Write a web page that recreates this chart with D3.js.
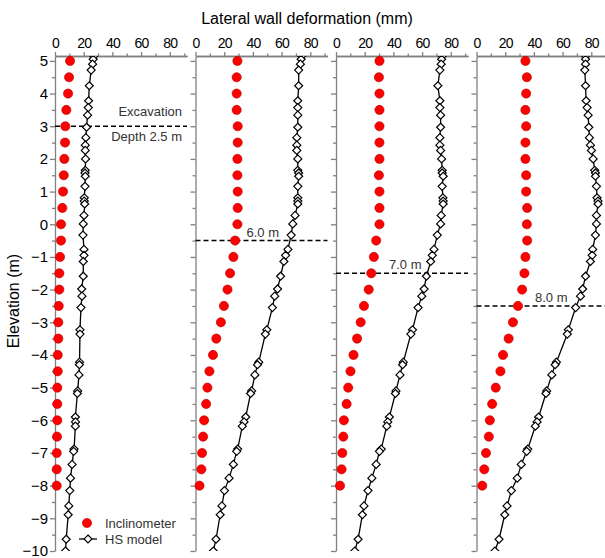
<!DOCTYPE html>
<html>
<head>
<meta charset="utf-8">
<script src="https://cdn.jsdelivr.net/npm/d3@7"></script>
<style>
  body { margin: 0; background: #fff; }
  text { font-family: Arial, "Liberation Sans", sans-serif; }
  .axis path, .axis line { stroke: #808080; stroke-width: 1.3; }
</style>
</head>
<body>
<div id="chart"></div>
<script>
// Chart data
var xTicks = [0, 20, 40, 60, 80];
var xMinorTicks = [10, 30, 50, 70, 90];
var yTicks = [5, 4, 3, 2, 1, 0, -1, -2, -3, -4, -5, -6, -7, -8, -9, -10];
var yMinorTicks = [4.5, 3.5, 2.5, 1.5, 0.5, -0.5, -1.5, -2.5, -3.5, -4.5, -5.5, -6.5, -7.5, -8.5, -9.5];

var stageDepth = ["2.5", "6.0", "7.0", "8.0"];
var stageElev = [3, -0.5, -1.5, -2.5];

// inclinometer readings, every 0.5 m
var inclElev = [5, 4.5, 4, 3.5, 3, 2.5, 2, 1.5, 1, 0.5, 0, -0.5, -1, -1.5, -2, -2.5, -3, -3.5, -4, -4.5, -5, -5.5, -6, -6.5, -7, -7.5, -8];
var incl25 = [10.5, 9.8, 9.1, 7.9, 7.2, 7.0, 6.5, 6.1, 5.6, 5.1, 4.2, 4.2, 3.5, 3.0, 3.0, 2.6, 2.3, 2.3, 1.9, 1.9, 1.6, 1.6, 1.6, 1.4, 1.2, 1.2, 1.2];
var incl60 = [29.2, 28.7, 28.7, 28.7, 29.4, 29.4, 29.2, 29.2, 29.4, 29.4, 29.2, 27.6, 26.4, 24.1, 22.3, 19.8, 17.7, 14.5, 12.2, 9.7, 8.3, 7.4, 6.0, 5.3, 4.6, 4.1, 2.8];
var incl70 = [30.3, 29.9, 30.3, 30.3, 30.3, 30.3, 30.3, 29.9, 30.3, 30.3, 30.3, 28.0, 26.4, 24.6, 22.8, 19.5, 17.2, 14.7, 12.2, 10.1, 8.5, 7.4, 5.5, 5.1, 4.4, 3.9, 2.8];
var incl80 = [34.1, 35.1, 34.6, 34.1, 34.6, 34.1, 34.1, 34.6, 34.6, 35.3, 35.1, 35.3, 34.1, 33.4, 31.8, 28.9, 25.4, 22.4, 18.5, 16.7, 13.4, 10.9, 9.3, 8.6, 6.6, 5.4, 4.0];

// HS model nodes
var hsElev = [5.15, 5.05, 4.9, 4.72, 4.24, 3.78, 3.57, 3.34, 2.97, 2.65, 2.42, 2.26, 2.0, 1.65, 1.57, 1.47, 1.16, 0.81, 0.71, 0.62, 0.27, 0.01, -0.33, -0.77, -0.95, -1.14, -1.59, -1.98, -2.2, -2.55, -3.23, -3.36, -4.22, -4.3, -4.61, -5.1, -5.18, -5.9, -6.05, -6.18, -6.88, -6.95, -7.35, -7.77, -8.15, -8.62, -8.89, -9.64, -10.0];
var hs25 = [27.0, 26.6, 26.2, 25.2, 23.9, 23.4, 23.2, 22.7, 22.0, 21.5, 21.1, 21.1, 21.3, 21.1, 20.9, 21.1, 20.9, 20.4, 20.4, 20.7, 20.2, 19.7, 19.5, 20.2, 20.2, 19.7, 19.7, 18.6, 18.8, 18.1, 17.4, 17.4, 17.1, 17.0, 16.7, 15.8, 15.6, 14.2, 14.3, 14.2, 13.3, 13.0, 11.9, 10.8, 10.3, 9.6, 9.2, 7.8, 7.3];
var hs60 = [74, 73.6, 73.1, 71.9, 71.9, 71.3, 71.3, 71.3, 71.3, 70.6, 70.6, 70.6, 71.3, 71.3, 71.9, 71.9, 71.3, 71.3, 71.3, 71.3, 69.4, 67.8, 66.7, 64.4, 62.8, 61.6, 59.3, 57.2, 55.2, 53.6, 49.7, 48.7, 44.1, 43.2, 41.4, 39.1, 38.4, 35.0, 33.8, 32.6, 29.4, 28.7, 26.4, 23.4, 20.2, 18.4, 17.2, 14.3, 12.4];
var hs70 = [74, 73.6, 73.3, 72.4, 71.0, 72.4, 72.4, 72.9, 72.9, 72.4, 72.4, 72.9, 73.6, 74.0, 74.0, 74.7, 74.0, 74.5, 74.7, 74.7, 73.3, 72.9, 70.6, 68.3, 67.1, 66.0, 63.0, 61.4, 59.8, 57.2, 53.3, 52.2, 46.9, 46.4, 44.6, 41.8, 41.4, 37.2, 36.1, 35.4, 31.5, 30.3, 28.0, 25.0, 22.3, 19.5, 18.4, 15.4, 13.1];
var hs80 = [76, 76, 76, 75.5, 76.0, 76.4, 77.1, 77.8, 78.3, 78.7, 79.4, 80.1, 81.3, 82.4, 82.9, 82.9, 83.6, 84.0, 84.7, 84.7, 83.6, 83.6, 82.9, 81.0, 80.6, 79.4, 76.0, 74.0, 72.5, 69.1, 64.0, 63.3, 55.7, 54.8, 52.5, 48.9, 48.4, 43.3, 42.2, 41.0, 35.7, 35.0, 31.2, 28.4, 24.3, 21.3, 19.7, 15.7, 12.8];

var inclSeries = [incl25, incl60, incl70, incl80];
var hsSeries = [hs25, hs60, hs70, hs80];

var svgWidth = 605;
var svgHeight = 558;
var panelLeft = 55;
var panelStep = 140.5;
var panelWidth = 132;

var svg = d3.select("#chart")
  .append("svg")
  .attr("width", svgWidth)
  .attr("height", svgHeight);

var x = d3.scaleLinear().domain([0, 92]).range([0, panelWidth]);
var y = d3.scaleLinear().domain([5.15, -10]).range([56, 551]);

svg.append("defs").append("clipPath")
  .attr("id", "plotClip")
  .append("rect")
  .attr("x", -10)
  .attr("y", y(5.15))
  .attr("width", panelWidth + 20)
  .attr("height", y(-10) - y(5.15));

var diamond = "M0,-4L4,0L0,4L-4,0Z";

stageDepth.forEach(function(depth, i) {
  var g = svg.append("g")
    .attr("transform", `translate(${panelLeft + i * panelStep}, 0)`);

  // top axis
  g.append("g")
    .attr("class", "axis")
    .attr("transform", `translate(0, ${y(5.15)})`)
    .call(d3.axisTop(x).tickValues(xTicks).tickSize(4).tickSizeOuter(0))
    .call(a => a.selectAll("text")
      .attr("fill", "#000")
      .style("font-size", "14px")
      .style("letter-spacing", "-0.8px")
      .attr("dy", "-0.1em"));

  g.append("g")
    .attr("class", "axis")
    .attr("transform", `translate(0, ${y(5.15)})`)
    .call(d3.axisTop(x).tickValues(xMinorTicks).tickSize(2.5).tickSizeOuter(0).tickFormat(""));

  // left axis
  var yAxis = g.append("g")
    .attr("class", "axis")
    .call(d3.axisLeft(y).tickValues(yTicks).tickSize(5).tickSizeOuter(0));
  yAxis.selectAll("text")
    .attr("fill", "#000")
    .style("font-size", "15px")
    .attr("x", -7);
  if (i > 0) yAxis.selectAll("text").remove();

  g.append("g")
    .attr("class", "axis")
    .call(d3.axisLeft(y).tickValues(yMinorTicks).tickSize(3).tickSizeOuter(0).tickFormat(""))
    .select(".domain").remove();

  // excavation level
  g.append("line")
    .attr("x1", 0)
    .attr("x2", panelWidth)
    .attr("y1", y(stageElev[i]))
    .attr("y2", y(stageElev[i]))
    .attr("stroke", "#000")
    .attr("stroke-width", 1.5)
    .attr("stroke-dasharray", "5,3");

  // HS model
  var hsData = hsElev.map((e, k) => ({ e: e, v: hsSeries[i][k] }));
  var plot = g.append("g").attr("clip-path", "url(#plotClip)");

  plot.append("path")
    .datum(hsData)
    .attr("fill", "none")
    .attr("stroke", "#000")
    .attr("stroke-width", 1.3)
    .attr("d", d3.line().x(d => x(d.v)).y(d => y(d.e)));

  plot.selectAll(".hs")
    .data(hsData)
    .enter()
    .append("path")
    .attr("class", "hs")
    .attr("d", diamond)
    .attr("transform", d => `translate(${x(d.v)}, ${y(d.e)})`)
    .attr("fill", "#fff")
    .attr("stroke", "#000")
    .attr("stroke-width", 1.2);

  // inclinometer
  g.selectAll(".incl")
    .data(inclElev.map((e, k) => ({ e: e, v: inclSeries[i][k] })))
    .enter()
    .append("circle")
    .attr("class", "incl")
    .attr("cx", d => x(d.v))
    .attr("cy", d => y(d.e))
    .attr("r", 4.6)
    .attr("fill", "#ff0000")
    .attr("stroke", "#b00000")
    .attr("stroke-width", 0.6);

  // stage labels
  if (i === 0) {
    g.append("text")
      .attr("x", 127)
      .attr("y", y(stageElev[i]) - 10)
      .attr("text-anchor", "end")
      .attr("fill", "#333")
      .style("font-size", "13px")
      .text("Excavation");
    g.append("text")
      .attr("x", 127)
      .attr("y", y(stageElev[i]) + 15)
      .attr("text-anchor", "end")
      .attr("fill", "#333")
      .style("font-size", "13px")
      .text("Depth " + depth + " m");
  } else {
    g.append("text")
      .attr("x", [0, 51, 53, 58.5][i])
      .attr("y", y(stageElev[i]) - 4)
      .attr("fill", "#333")
      .style("font-size", "13px")
      .text(depth + " m");
  }
});

// Legend
var legend = svg.append("g");
legend.append("circle")
  .attr("cx", 87).attr("cy", 523).attr("r", 4.6)
  .attr("fill", "#ff0000").attr("stroke", "#b00000").attr("stroke-width", 0.6);
legend.append("text")
  .attr("x", 105).attr("y", 528)
  .attr("fill", "#333").style("font-size", "13px")
  .text("Inclinometer");
legend.append("line")
  .attr("x1", 79).attr("x2", 97).attr("y1", 539).attr("y2", 539)
  .attr("stroke", "#000").attr("stroke-width", 1.3);
legend.append("path")
  .attr("d", diamond)
  .attr("transform", "translate(88, 539)")
  .attr("fill", "#fff").attr("stroke", "#000").attr("stroke-width", 1.2);
legend.append("text")
  .attr("x", 105).attr("y", 544)
  .attr("fill", "#333").style("font-size", "13px")
  .text("HS model");

// Axis titles
svg.append("text")
  .attr("x", 307)
  .attr("y", 24)
  .attr("text-anchor", "middle")
  .style("font-size", "16px")
  .text("Lateral wall deformation (mm)");

svg.append("text")
  .attr("transform", "translate(19, 301) rotate(-90)")
  .attr("text-anchor", "middle")
  .style("font-size", "16px")
  .text("Elevation (m)");
</script>
</body>
</html>
